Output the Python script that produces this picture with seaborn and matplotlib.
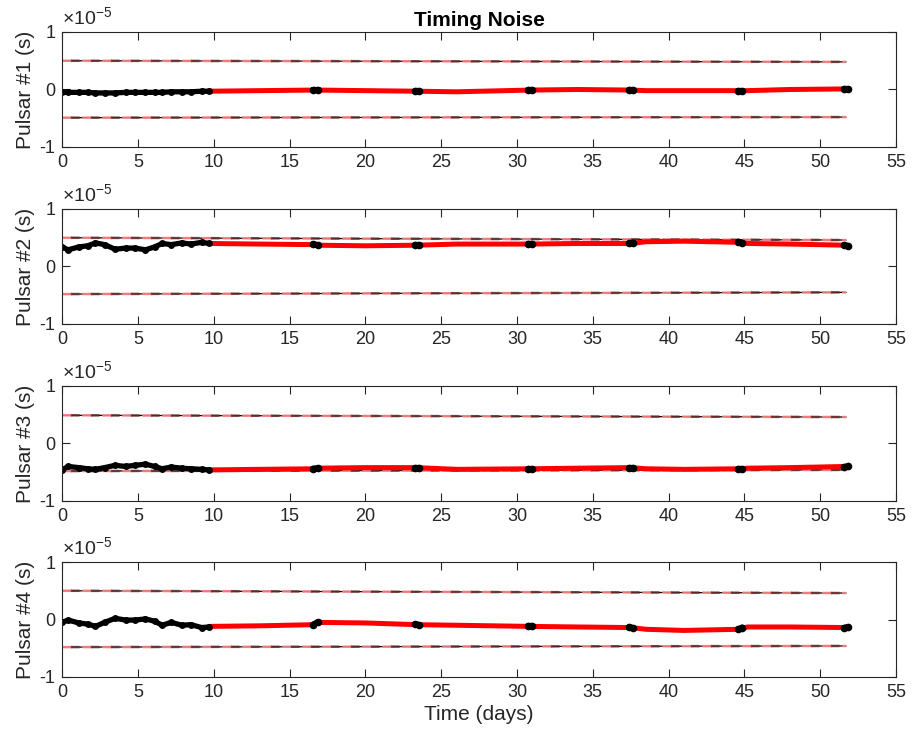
import numpy as np
import pandas as pd
import matplotlib
matplotlib.use("Agg")
import matplotlib.pyplot as plt
import seaborn as sns
from matplotlib.ticker import FuncFormatter

sns.set_style("ticks")
plt.rcParams['font.family'] = ['Liberation Sans', 'DejaVu Sans']
plt.rcParams['axes.unicode_minus'] = False
plt.rcParams['mathtext.fontset'] = 'custom'
plt.rcParams['mathtext.rm'] = 'Liberation Sans'

SCALE = 1e-5  # values below are in units of 1e-5 s

title = "Timing Noise"
xlabel = "Time (days)"
ylabels = ["Pulsar #1 (s)", "Pulsar #2 (s)", "Pulsar #3 (s)", "Pulsar #4 (s)"]
x_ticks = [0, 5, 10, 15, 20, 25, 30, 35, 40, 45, 50, 55]
y_ticks = [-1, 0, 1]

# Early dense observations (black)
early_t = [0.0, 0.4, 1.1, 1.7, 2.2, 2.8, 3.5, 4.2, 4.8, 5.5, 6.1, 6.6, 7.2, 7.9, 8.5, 9.2, 9.7]
early_p1 = [-0.05, -0.05, -0.05, -0.05, -0.06, -0.06, -0.06, -0.05, -0.05, -0.05, -0.05, -0.05, -0.04, -0.04, -0.04, -0.03, -0.03]
early_p2 = [0.34, 0.29, 0.34, 0.36, 0.41, 0.38, 0.30, 0.32, 0.32, 0.29, 0.34, 0.40, 0.38, 0.41, 0.39, 0.42, 0.40]
early_p3 = [-0.46, -0.40, -0.42, -0.44, -0.45, -0.42, -0.38, -0.40, -0.38, -0.36, -0.40, -0.44, -0.41, -0.43, -0.44, -0.45, -0.46]
early_p4 = [-0.05, -0.01, -0.06, -0.08, -0.12, -0.05, 0.02, -0.01, -0.01, 0.01, -0.03, -0.10, -0.05, -0.10, -0.09, -0.14, -0.13]

# Estimated timing noise (red)
red_t = [9.7, 13.0, 16.6, 16.8, 20.0, 23.4, 26.0, 30.9, 34.0, 37.5, 38.5, 41.0, 44.7, 45.2, 48.0, 51.7]
red_p1 = [-0.03, -0.02, -0.01, -0.01, -0.02, -0.03, -0.04, -0.01, 0.00, -0.01, -0.02, -0.02, -0.02, -0.02, 0.00, 0.01]
red_p2 = [0.40, 0.39, 0.38, 0.37, 0.36, 0.37, 0.39, 0.39, 0.40, 0.40, 0.43, 0.44, 0.42, 0.40, 0.39, 0.37]
red_p3 = [-0.46, -0.45, -0.44, -0.43, -0.42, -0.42, -0.45, -0.44, -0.43, -0.42, -0.44, -0.45, -0.44, -0.43, -0.42, -0.40]
red_p4 = [-0.12, -0.11, -0.09, -0.05, -0.06, -0.09, -0.10, -0.12, -0.13, -0.14, -0.17, -0.19, -0.17, -0.13, -0.13, -0.14]

# Sparse observation clusters (black)
obs_t = [16.55, 16.85, 23.3, 23.55, 30.75, 31.0, 37.4, 37.65, 44.6, 44.85, 51.55, 51.8]
obs_cluster = [1, 1, 2, 2, 3, 3, 4, 4, 5, 5, 6, 6]
obs_p1 = [-0.01, -0.01, -0.03, -0.03, -0.01, -0.01, -0.01, -0.01, -0.02, -0.02, 0.00, 0.00]
obs_p2 = [0.39, 0.37, 0.37, 0.37, 0.39, 0.39, 0.40, 0.41, 0.42, 0.41, 0.37, 0.36]
obs_p3 = [-0.44, -0.43, -0.42, -0.42, -0.44, -0.44, -0.42, -0.42, -0.44, -0.44, -0.41, -0.40]
obs_p4 = [-0.09, -0.05, -0.08, -0.10, -0.12, -0.12, -0.13, -0.15, -0.17, -0.14, -0.15, -0.13]

# Bounds (+/-)
bound_t = [0.0, 51.7]
bound_hi = [[0.50, 0.48], [0.50, 0.46], [0.49, 0.46], [0.50, 0.46]]
bound_lo = [[-0.49, -0.48], [-0.48, -0.45], [-0.48, -0.46], [-0.48, -0.46]]

early_all = [early_p1, early_p2, early_p3, early_p4]
red_all = [red_p1, red_p2, red_p3, red_p4]
obs_all = [obs_p1, obs_p2, obs_p3, obs_p4]

fig = plt.figure(figsize=(9.13, 7.39), dpi=100)
bottoms = [0.8011, 0.5616, 0.3221, 0.0839]
left, width, height = 0.068, 0.9135, 0.1556
grey = '#262626'

for i in range(4):
    ax = fig.add_axes([left, bottoms[i], width, height])
    # bounds
    for b in (bound_hi[i], bound_lo[i]):
        bv = np.array(b) * SCALE
        bdf = pd.DataFrame({'t': bound_t, 'v': bv})
        sns.lineplot(data=bdf, x='t', y='v', color='black', lw=0.9, ax=ax, legend=False)
        ax.plot(bound_t, bv, color='#ff8080', lw=1.8, alpha=0.9, linestyle=(0, (4, 4)))
        ax.plot(bound_t, bv, color='#6a3030', lw=1.8, alpha=0.85, linestyle=(4.5, (3.5, 4.5)))
    # red estimate
    rdf = pd.DataFrame({'t': red_t, 'v': np.array(red_all[i]) * SCALE})
    sns.lineplot(data=rdf, x='t', y='v', color='#ff0000', lw=3.6, ax=ax, legend=False,
                 solid_capstyle='round')
    # early black observations
    edf = pd.DataFrame({'t': early_t, 'v': np.array(early_all[i]) * SCALE})
    sns.lineplot(data=edf, x='t', y='v', color='black', lw=3.8, marker='o', markersize=5,
                 markeredgewidth=0, ax=ax, legend=False, solid_capstyle='round')
    # sparse clusters
    odf = pd.DataFrame({'t': obs_t, 'v': np.array(obs_all[i]) * SCALE, 'c': obs_cluster})
    sns.lineplot(data=odf, x='t', y='v', units='c', estimator=None, color='black', lw=4.5,
                 marker='o', markersize=5.5, markeredgewidth=0, ax=ax, legend=False,
                 solid_capstyle='round')

    ax.set_xlim(0, 55)
    ax.set_ylim(-1 * SCALE, 1 * SCALE)
    ax.set_xticks(x_ticks)
    ax.set_yticks([v * SCALE for v in y_ticks])
    ax.yaxis.set_major_formatter(FuncFormatter(lambda v, _: f"{v / SCALE:g}"))
    ax.tick_params(direction='in', top=True, right=True, length=5.5, width=0.8,
                   color=grey, labelcolor=grey, labelsize=13, pad=5)
    for s in ax.spines.values():
        s.set_color(grey)
        s.set_linewidth(0.8)
    ax.set_ylabel(ylabels[i], fontsize=15, color=grey, labelpad=3)
    if i == 3:
        ax.set_xlabel(xlabel, fontsize=15, color=grey, labelpad=3)
    else:
        ax.set_xlabel("")
    ax.text(0.0, 1.03, r'$\mathregular{\times10^{-5}}$', transform=ax.transAxes,
            ha='left', va='bottom', fontsize=14, color=grey)
    if i == 0:
        ax.set_title(title, fontsize=15, fontweight='bold', color='black', pad=4)

fig.savefig("out.png", dpi=100)
